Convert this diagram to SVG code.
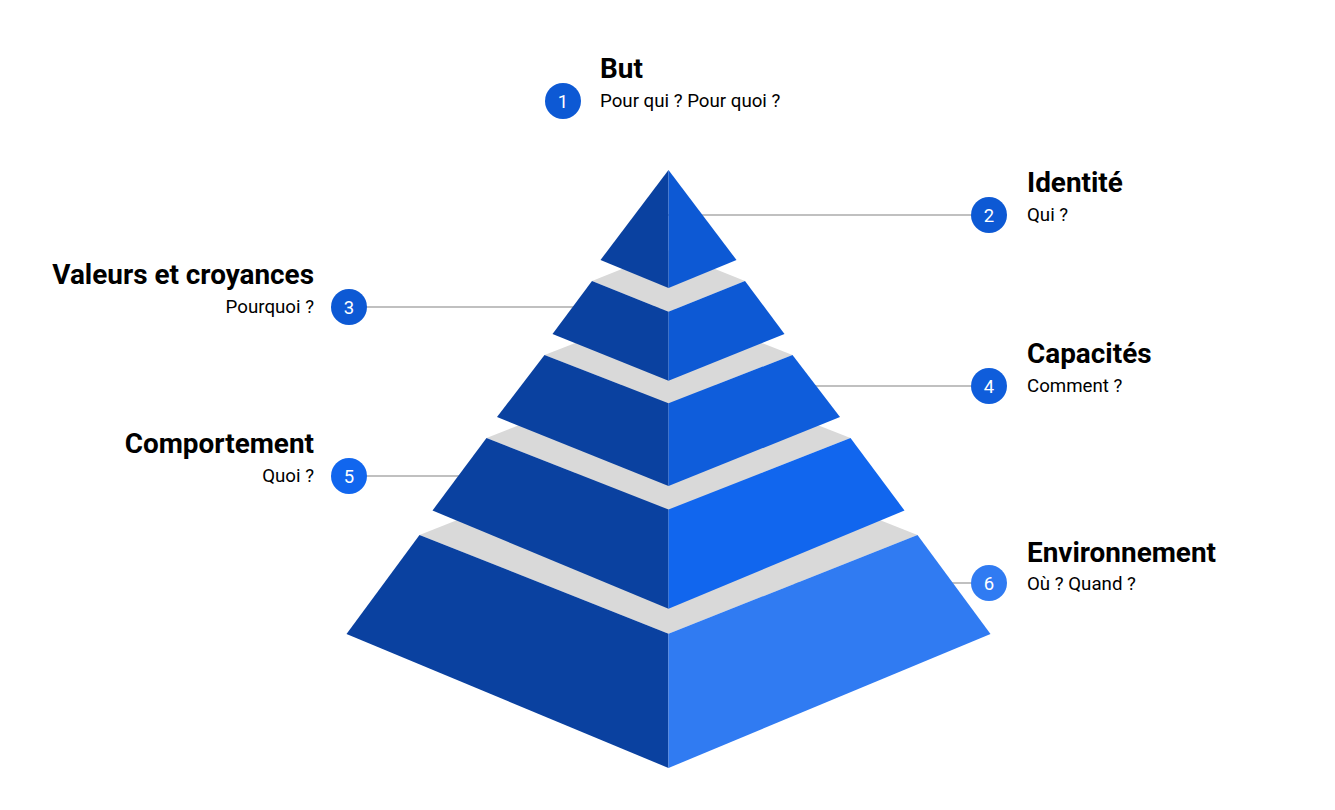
<svg xmlns="http://www.w3.org/2000/svg" width="1335" height="810" viewBox="0 0 1335 810">
<style>
.bg{fill:#ffffff}
.top{fill:#d9d9d9}
.left{fill:#0a41a0}
.link{stroke:#c0c0c0;stroke-width:1.8;fill:none}
.title{font-family:Roboto,"Liberation Sans",sans-serif;font-weight:700;font-size:27.9px;fill:#000}
.sub{font-family:Roboto,"Liberation Sans",sans-serif;font-size:18.7px;fill:#000}
.num{font-family:Roboto,"Liberation Sans",sans-serif;font-size:18.5px;fill:#fff;text-anchor:middle}
.end{text-anchor:end}
</style>
<rect class="bg" x="0" y="0" width="1335" height="810"/>
<g id="connectors">
<line class="link" x1="668" y1="215" x2="971" y2="215"/>
<line class="link" x1="331" y1="307" x2="668" y2="307"/>
<line class="link" x1="668" y1="386" x2="971" y2="386"/>
<line class="link" x1="331" y1="476" x2="668" y2="476"/>
<line class="link" x1="668" y1="583" x2="971" y2="583"/>
</g>
<g id="pyramid">
<g id="layer5">
<polygon class="top" points="419.5,535 668.5,436.3 917.5,535 668.5,633.7"/>
<polygon class="left" points="419.5,535 668.5,633.7 668.5,768 346.5,634"/>
<polygon fill="#307bf2" points="668.5,633.7 917.5,535 990.5,634 668.5,768"/>
</g>
<g id="layer4">
<polygon class="top" points="486.5,438 668.5,366.5 850.5,438 668.5,509.5"/>
<polygon class="left" points="486.5,438 668.5,509.5 668.5,608.7 432.5,510.5"/>
<polygon fill="#1166ee" points="668.5,509.5 850.5,438 904.5,510.5 668.5,608.7"/>
</g>
<g id="layer3">
<polygon class="top" points="544.5,355 668.5,306.7 792.5,355 668.5,403.3"/>
<polygon class="left" points="544.5,355 668.5,403.3 668.5,486 497,417"/>
<polygon fill="#0f5ddb" points="668.5,403.3 792.5,355 840,417 668.5,486"/>
</g>
<g id="layer2">
<polygon class="top" points="592,281 668.5,250.3 745,281 668.5,311.7"/>
<polygon class="left" points="592,281 668.5,311.7 668.5,380.7 552.5,334"/>
<polygon fill="#0d59d4" points="668.5,311.7 745,281 784.5,334 668.5,380.7"/>
</g>
<g id="layer1">
<polygon class="left" points="668.5,170 600.5,260 668.5,288"/>
<polygon fill="#0d59d4" points="668.5,170 736.5,260 668.5,288"/>
</g>
</g>
<g id="node1">
<circle cx="563" cy="101" r="18" fill="#0d59d4"/>
<text class="num" x="563" y="107.5">1</text>
<text class="title" x="600" y="77.5">But</text>
<text class="sub" x="600" y="107">Pour qui ? Pour quoi ?</text>
</g>
<g id="node2">
<circle cx="989" cy="215" r="18" fill="#0d59d4"/>
<text class="num" x="989" y="221.5">2</text>
<text class="title" x="1027" y="191.5">Identité</text>
<text class="sub" x="1027" y="221">Qui ?</text>
</g>
<g id="node3">
<circle cx="349" cy="307" r="18" fill="#0d59d4"/>
<text class="num" x="349" y="313.5">3</text>
<text class="title end" x="314" y="283.5">Valeurs et croyances</text>
<text class="sub end" x="314" y="313">Pourquoi ?</text>
</g>
<g id="node4">
<circle cx="989" cy="386" r="18" fill="#0f5ddb"/>
<text class="num" x="989" y="392.5">4</text>
<text class="title" x="1027" y="362.5">Capacités</text>
<text class="sub" x="1027" y="392">Comment ?</text>
</g>
<g id="node5">
<circle cx="349" cy="476" r="18" fill="#1166ee"/>
<text class="num" x="349" y="482.5">5</text>
<text class="title end" x="314" y="452.5">Comportement</text>
<text class="sub end" x="314" y="482">Quoi ?</text>
</g>
<g id="node6">
<circle cx="989" cy="583" r="18" fill="#307bf2"/>
<text class="num" x="989" y="589.5">6</text>
<text class="title" x="1027" y="561.5">Environnement</text>
<text class="sub" x="1027" y="590">Où ? Quand ?</text>
</g>
</svg>
